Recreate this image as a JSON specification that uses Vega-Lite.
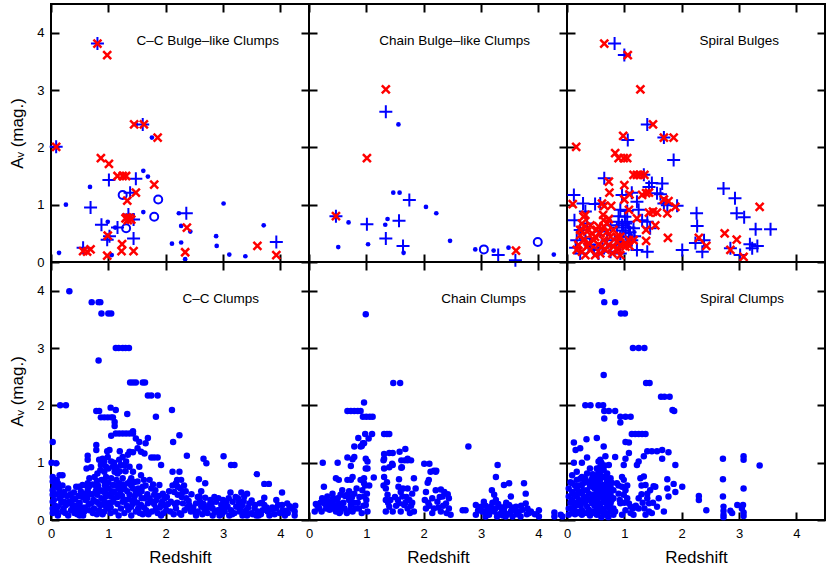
{
"$schema":"https://vega.github.io/schema/vega-lite/v6.json",
"background":"white",
"padding":{"left":7,"top":2,"right":2,"bottom":2},
"columns":3,
"spacing":0,
"bounds":"flush",
"config":{
 "view":{"stroke":"black","strokeWidth":2},
 "axis":{"grid":false,"domain":false,"ticks":true,"tickSize":-8,"tickWidth":2,"tickColor":"black","labelPadding":15,"labelFlush":false,"labelFont":"Liberation Sans","labelFontSize":13,"labelColor":"black","titleFont":"Liberation Sans","titleFontSize":17,"titleFontWeight":"normal","titleColor":"black"},
 "axisX":{"titlePadding":9},
 "axisY":{"titlePadding":10},
 "title":{"font":"Liberation Sans","fontSize":13.5,"fontWeight":"normal","color":"black","anchor":"end","frame":"group"}
},
"datasets":{
"p1":[
{"t":"d","x":0.14,"y":0.16},{"t":"d","x":0.26,"y":1.0},{"t":"d","x":0.68,"y":1.31},{"t":"d","x":0.99,"y":0.70},{"t":"d","x":1.06,"y":0.12},{"t":"d","x":1.12,"y":0.60},{"t":"d","x":1.61,"y":1.59},{"t":"d","x":1.69,"y":1.49},{"t":"d","x":1.76,"y":2.17},{"t":"d","x":1.61,"y":0.87},{"t":"d","x":2.23,"y":0.85},{"t":"d","x":2.27,"y":0.63},{"t":"d","x":2.43,"y":0.53},{"t":"d","x":2.11,"y":0.32},{"t":"d","x":2.27,"y":0.34},{"t":"d","x":2.34,"y":0.05},{"t":"d","x":2.88,"y":0.45},{"t":"d","x":2.89,"y":0.28},{"t":"d","x":3.01,"y":1.02},{"t":"d","x":3.11,"y":0.13},{"t":"d","x":3.39,"y":0.10},{"t":"d","x":3.71,"y":0.64},{"t":"d","x":1.48,"y":2.40},
{"t":"o","x":1.25,"y":1.17},{"t":"o","x":1.87,"y":1.09},{"t":"o","x":1.80,"y":0.79},{"t":"o","x":1.31,"y":0.59},
{"t":"p","x":0.09,"y":2.01},{"t":"p","x":0.81,"y":3.81},{"t":"p","x":1.60,"y":2.40},{"t":"p","x":1.01,"y":1.43},{"t":"p","x":1.48,"y":1.45},{"t":"p","x":0.69,"y":0.95},{"t":"p","x":1.38,"y":1.21},{"t":"p","x":0.88,"y":0.65},{"t":"p","x":1.16,"y":0.60},{"t":"p","x":1.35,"y":0.83},{"t":"p","x":1.44,"y":0.74},{"t":"p","x":0.98,"y":0.39},{"t":"p","x":1.02,"y":0.45},{"t":"p","x":1.44,"y":0.41},{"t":"p","x":0.56,"y":0.25},{"t":"p","x":2.36,"y":0.85},{"t":"p","x":3.93,"y":0.35},
{"t":"x","x":0.09,"y":2.01},{"t":"x","x":0.81,"y":3.81},{"t":"x","x":0.98,"y":3.61},{"t":"x","x":1.45,"y":2.40},{"t":"x","x":1.62,"y":2.40},{"t":"x","x":1.86,"y":2.17},{"t":"x","x":0.87,"y":1.81},{"t":"x","x":1.01,"y":1.71},{"t":"x","x":1.16,"y":1.50},{"t":"x","x":1.25,"y":1.50},{"t":"x","x":1.31,"y":1.50},{"t":"x","x":1.80,"y":1.35},{"t":"x","x":1.48,"y":1.21},{"t":"x","x":1.33,"y":1.07},{"t":"x","x":1.30,"y":0.76},{"t":"x","x":1.34,"y":0.73},{"t":"x","x":1.37,"y":0.77},{"t":"x","x":1.32,"y":0.78},{"t":"x","x":1.40,"y":0.74},{"t":"x","x":0.99,"y":0.46},{"t":"x","x":1.24,"y":0.31},{"t":"x","x":1.23,"y":0.19},{"t":"x","x":1.44,"y":0.19},{"t":"x","x":0.56,"y":0.19},{"t":"x","x":0.63,"y":0.18},{"t":"x","x":0.69,"y":0.22},{"t":"x","x":0.98,"y":0.11},{"t":"x","x":2.37,"y":0.60},{"t":"x","x":2.34,"y":0.17},{"t":"x","x":3.60,"y":0.28},{"t":"x","x":3.93,"y":0.12}
],
"p2":[
{"t":"d","x":1.56,"y":2.40},{"t":"d","x":1.47,"y":1.21},{"t":"d","x":1.58,"y":1.21},{"t":"d","x":2.04,"y":0.96},{"t":"d","x":2.22,"y":0.85},{"t":"d","x":0.69,"y":0.69},{"t":"d","x":1.37,"y":0.75},{"t":"d","x":1.33,"y":0.65},{"t":"d","x":0.51,"y":0.26},{"t":"d","x":1.03,"y":0.31},{"t":"d","x":1.65,"y":0.16},{"t":"d","x":2.46,"y":0.37},{"t":"d","x":2.90,"y":0.22},{"t":"d","x":3.22,"y":0.20},{"t":"d","x":3.48,"y":0.25},{"t":"d","x":4.27,"y":0.13},
{"t":"o","x":3.05,"y":0.22},{"t":"o","x":3.99,"y":0.35},
{"t":"p","x":1.34,"y":2.62},{"t":"p","x":0.47,"y":0.80},{"t":"p","x":1.01,"y":0.66},{"t":"p","x":1.57,"y":0.72},{"t":"p","x":1.75,"y":1.08},{"t":"p","x":1.34,"y":0.41},{"t":"p","x":1.64,"y":0.28},{"t":"p","x":3.30,"y":0.12},{"t":"p","x":3.60,"y":0.03},
{"t":"x","x":1.34,"y":3.01},{"t":"x","x":1.01,"y":1.81},{"t":"x","x":0.47,"y":0.80},{"t":"x","x":3.61,"y":0.20}
],
"p3":[
{"t":"p","x":0.83,"y":3.81},{"t":"p","x":1.00,"y":3.61},{"t":"p","x":1.40,"y":2.40},{"t":"p","x":1.06,"y":2.13},{"t":"p","x":1.69,"y":2.17},{"t":"p","x":1.86,"y":1.78},{"t":"p","x":0.65,"y":1.46},{"t":"p","x":1.34,"y":1.52},{"t":"p","x":1.48,"y":1.38},{"t":"p","x":1.66,"y":1.37},{"t":"p","x":1.43,"y":1.31},{"t":"p","x":0.12,"y":1.17},{"t":"p","x":0.96,"y":1.17},{"t":"p","x":1.13,"y":1.21},{"t":"p","x":1.57,"y":1.20},{"t":"p","x":1.63,"y":1.18},{"t":"p","x":1.22,"y":1.05},{"t":"p","x":1.69,"y":1.02},{"t":"p","x":1.75,"y":0.99},{"t":"p","x":1.92,"y":0.98},{"t":"p","x":0.28,"y":1.02},{"t":"p","x":0.49,"y":1.01},{"t":"p","x":0.58,"y":1.02},{"t":"p","x":0.93,"y":0.91},{"t":"p","x":1.05,"y":0.89},{"t":"p","x":1.25,"y":0.91},{"t":"p","x":0.13,"y":0.73},{"t":"p","x":0.32,"y":0.88},{"t":"p","x":0.87,"y":0.60},{"t":"p","x":0.96,"y":0.64},{"t":"p","x":1.02,"y":0.67},{"t":"p","x":1.08,"y":0.60},{"t":"p","x":1.16,"y":0.59},{"t":"p","x":1.31,"y":0.73},{"t":"p","x":1.40,"y":0.70},{"t":"p","x":1.45,"y":0.59},{"t":"p","x":1.02,"y":0.50},{"t":"p","x":1.08,"y":0.44},{"t":"p","x":0.93,"y":0.44},{"t":"p","x":1.13,"y":0.38},{"t":"p","x":1.22,"y":0.21},{"t":"p","x":1.40,"y":0.18},{"t":"p","x":0.93,"y":0.15},{"t":"p","x":0.76,"y":0.18},{"t":"p","x":0.23,"y":0.15},{"t":"p","x":0.47,"y":0.21},{"t":"p","x":0.55,"y":0.15},{"t":"p","x":0.17,"y":0.38},{"t":"p","x":0.32,"y":0.41},{"t":"p","x":0.23,"y":0.56},{"t":"p","x":0.35,"y":0.67},{"t":"p","x":0.58,"y":0.53},{"t":"p","x":0.70,"y":0.38},{"t":"p","x":0.76,"y":0.64},{"t":"p","x":2.26,"y":0.85},{"t":"p","x":2.27,"y":0.63},{"t":"p","x":2.39,"y":0.38},{"t":"p","x":2.24,"y":0.33},{"t":"p","x":2.01,"y":0.21},{"t":"p","x":2.36,"y":0.18},{"t":"p","x":2.73,"y":1.28},{"t":"p","x":2.93,"y":1.11},{"t":"p","x":2.96,"y":0.85},{"t":"p","x":3.09,"y":0.78},{"t":"p","x":3.29,"y":0.57},{"t":"p","x":3.55,"y":0.57},{"t":"p","x":3.19,"y":0.31},{"t":"p","x":3.32,"y":0.28},{"t":"p","x":3.23,"y":0.24},{"t":"p","x":2.85,"y":0.24},{"t":"p","x":3.02,"y":0.12},{"t":"p","x":1.01,"y":0.79},{"t":"p","x":0.90,"y":0.80},{"t":"p","x":0.98,"y":0.55},{"t":"p","x":1.05,"y":0.70},{"t":"p","x":0.90,"y":0.70},{"t":"p","x":1.10,"y":0.52},{"t":"p","x":0.95,"y":0.35},{"t":"p","x":0.15,"y":0.25},{"t":"p","x":0.40,"y":0.30},{"t":"p","x":0.62,"y":0.25},{"t":"p","x":0.85,"y":0.30},{"t":"p","x":1.18,"y":0.45},
{"t":"x","x":0.65,"y":3.81},{"t":"x","x":1.06,"y":3.61},{"t":"x","x":1.28,"y":3.01},{"t":"x","x":1.50,"y":2.40},{"t":"x","x":0.98,"y":2.20},{"t":"x","x":1.69,"y":2.17},{"t":"x","x":1.86,"y":2.17},{"t":"x","x":0.16,"y":2.01},{"t":"x","x":0.84,"y":1.90},{"t":"x","x":0.90,"y":1.81},{"t":"x","x":0.99,"y":1.81},{"t":"x","x":1.05,"y":1.81},{"t":"x","x":1.16,"y":1.52},{"t":"x","x":1.22,"y":1.52},{"t":"x","x":1.28,"y":1.52},{"t":"x","x":1.35,"y":1.52},{"t":"x","x":0.73,"y":1.40},{"t":"x","x":1.00,"y":1.34},{"t":"x","x":0.74,"y":1.21},{"t":"x","x":1.09,"y":1.18},{"t":"x","x":1.00,"y":1.09},{"t":"x","x":1.31,"y":1.17},{"t":"x","x":1.38,"y":1.20},{"t":"x","x":1.43,"y":1.21},{"t":"x","x":1.69,"y":1.09},{"t":"x","x":1.77,"y":1.06},{"t":"x","x":1.89,"y":0.96},{"t":"x","x":0.10,"y":1.01},{"t":"x","x":0.61,"y":1.02},{"t":"x","x":0.65,"y":0.98},{"t":"x","x":0.77,"y":0.98},{"t":"x","x":0.32,"y":0.82},{"t":"x","x":0.63,"y":0.82},{"t":"x","x":0.73,"y":0.75},{"t":"x","x":1.08,"y":0.91},{"t":"x","x":1.43,"y":0.86},{"t":"x","x":1.50,"y":0.88},{"t":"x","x":1.57,"y":0.86},{"t":"x","x":1.75,"y":0.85},{"t":"x","x":1.22,"y":0.76},{"t":"x","x":1.38,"y":0.56},{"t":"x","x":1.54,"y":0.64},{"t":"x","x":1.38,"y":0.37},{"t":"x","x":1.76,"y":0.42},{"t":"x","x":2.30,"y":0.42},{"t":"x","x":2.43,"y":0.28},{"t":"x","x":2.75,"y":0.50},{"t":"x","x":2.96,"y":0.39},{"t":"x","x":2.85,"y":0.21},{"t":"x","x":3.08,"y":0.09},{"t":"x","x":3.36,"y":0.96},{"t":"x","x":1.09,"y":0.28},{"t":"x","x":1.02,"y":0.33},{"t":"x","x":0.93,"y":0.44},{"t":"x","x":1.16,"y":0.38},
{"t":"x","x":0.26,"y":0.67},{"t":"x","x":0.32,"y":0.62},{"t":"x","x":0.23,"y":0.47},{"t":"x","x":0.29,"y":0.38},{"t":"x","x":0.20,"y":0.30},{"t":"x","x":0.35,"y":0.27},{"t":"x","x":0.26,"y":0.18},{"t":"x","x":0.32,"y":0.12},{"t":"x","x":0.41,"y":0.21},{"t":"x","x":0.47,"y":0.38},{"t":"x","x":0.52,"y":0.56},{"t":"x","x":0.49,"y":0.44},{"t":"x","x":0.58,"y":0.50},{"t":"x","x":0.64,"y":0.62},{"t":"x","x":0.70,"y":0.53},{"t":"x","x":0.76,"y":0.44},{"t":"x","x":0.55,"y":0.30},{"t":"x","x":0.61,"y":0.27},{"t":"x","x":0.67,"y":0.21},{"t":"x","x":0.73,"y":0.30},{"t":"x","x":0.81,"y":0.27},{"t":"x","x":0.87,"y":0.35},{"t":"x","x":0.90,"y":0.21},{"t":"x","x":0.38,"y":0.33},{"t":"x","x":0.44,"y":0.50},{"t":"x","x":0.64,"y":0.38},{"t":"x","x":0.79,"y":0.15},{"t":"x","x":0.58,"y":0.15},{"t":"x","x":0.17,"y":0.21},{"t":"x","x":0.49,"y":0.12},{"t":"x","x":0.35,"y":0.53},{"t":"x","x":0.70,"y":0.67},{"t":"x","x":0.81,"y":0.56},{"t":"x","x":0.87,"y":0.44},{"t":"x","x":0.93,"y":0.30},{"t":"x","x":1.02,"y":0.27},{"t":"x","x":1.08,"y":0.38},{"t":"x","x":0.93,"y":0.12},{"t":"x","x":0.23,"y":0.56},{"t":"x","x":0.41,"y":0.64},{"t":"x","x":0.55,"y":0.62},{"t":"x","x":0.64,"y":0.73},{"t":"x","x":0.29,"y":0.79}
],
"p4":[
{"x":0.32,"y":3.99},{"x":0.71,"y":3.80},{"x":0.83,"y":3.80},{"x":0.86,"y":3.80},{"x":0.88,"y":3.60},{"x":1.00,"y":3.60},{"x":1.05,"y":3.60},{"x":0.83,"y":2.78},{"x":1.13,"y":3.0},{"x":1.18,"y":3.0},{"x":1.25,"y":3.0},{"x":1.30,"y":3.0},{"x":1.36,"y":3.0},{"x":1.38,"y":2.40},{"x":1.43,"y":2.40},{"x":1.48,"y":2.40},{"x":1.60,"y":2.40},{"x":1.64,"y":2.40},{"x":1.69,"y":2.17},{"x":1.75,"y":2.17},{"x":1.86,"y":2.17},{"x":0.16,"y":2.0},{"x":0.26,"y":2.0},{"x":1.33,"y":1.85},{"x":1.83,"y":1.80},
{"x":0.79,"y":1.90},{"x":0.84,"y":1.90},{"x":1.04,"y":1.96},{"x":1.13,"y":1.92},{"x":0.87,"y":1.79},{"x":0.93,"y":1.79},{"x":0.99,"y":1.79},{"x":1.05,"y":1.79},{"x":1.08,"y":1.79},{"x":2.11,"y":1.92},{"x":1.11,"y":1.71},{"x":1.11,"y":1.64},{"x":1.05,"y":1.47},{"x":1.13,"y":1.51},{"x":1.19,"y":1.51},{"x":1.25,"y":1.51},{"x":1.31,"y":1.51},{"x":1.37,"y":1.51},{"x":1.43,"y":1.51},{"x":1.43,"y":1.55},{"x":1.48,"y":1.42},{"x":1.54,"y":1.36},{"x":1.69,"y":1.43},{"x":1.65,"y":1.34},{"x":2.13,"y":1.36},{"x":2.24,"y":1.48},{"x":0.03,"y":1.36},{"x":0.79,"y":1.31},{"x":0.79,"y":1.22},{"x":0.64,"y":1.12},{"x":0.64,"y":1.05},{"x":1.02,"y":1.22},{"x":0.99,"y":1.10},{"x":1.25,"y":1.10},{"x":1.34,"y":1.14},{"x":1.37,"y":1.19},{"x":1.43,"y":1.18},{"x":1.51,"y":1.25},{"x":1.57,"y":1.19},{"x":1.63,"y":1.16},{"x":1.75,"y":1.09},{"x":1.80,"y":1.09},{"x":1.86,"y":1.09},{"x":1.92,"y":0.96},{"x":0.09,"y":0.99},{"x":0.01,"y":1.0},
{"x":0.03,"y":0.75},{"x":0.03,"y":0.67},{"x":0.03,"y":0.52},{"x":0.03,"y":0.44},{"x":0.03,"y":0.32},{"x":0.03,"y":0.20},{"x":0.03,"y":0.12},
{"x":0.15,"y":0.78},{"x":0.20,"y":0.78},{"x":0.12,"y":0.64},{"x":0.20,"y":0.60},{"x":0.15,"y":0.49},{"x":0.23,"y":0.49},{"x":0.15,"y":0.38},{"x":0.23,"y":0.32},{"x":0.12,"y":0.23},{"x":0.20,"y":0.15},{"x":0.26,"y":0.26},
{"x":0.44,"y":0.58},{"x":0.49,"y":0.58},{"x":0.55,"y":0.61},{"x":0.32,"y":0.32},{"x":0.38,"y":0.20},{"x":0.47,"y":0.26},{"x":0.52,"y":0.17},{"x":0.41,"y":0.12},{"x":0.35,"y":0.17},{"x":0.58,"y":0.15},
{"x":0.58,"y":0.46},{"x":0.64,"y":0.52},{"x":0.64,"y":0.64},{"x":0.67,"y":0.73},{"x":0.63,"y":0.38},{"x":0.70,"y":0.29},{"x":0.67,"y":0.17},{"x":0.73,"y":0.12},
{"x":0.76,"y":0.75},{"x":0.81,"y":0.81},{"x":0.86,"y":0.87},{"x":0.87,"y":0.96},{"x":0.84,"y":1.05},{"x":0.79,"y":0.58},{"x":0.81,"y":0.44},{"x":0.79,"y":0.32},{"x":0.84,"y":0.17},{"x":0.87,"y":0.26},{"x":0.93,"y":0.15},{"x":0.99,"y":0.20},{"x":1.04,"y":0.12},
{"x":0.90,"y":1.07},{"x":0.93,"y":1.02},{"x":0.96,"y":0.93},{"x":0.93,"y":0.84},{"x":0.96,"y":0.75},{"x":0.93,"y":0.67},{"x":0.96,"y":0.58},{"x":0.93,"y":0.49},{"x":0.96,"y":0.41},{"x":0.93,"y":0.32},{"x":0.96,"y":0.23},
{"x":1.05,"y":1.02},{"x":1.08,"y":0.93},{"x":1.11,"y":0.84},{"x":1.05,"y":0.73},{"x":1.08,"y":0.61},{"x":1.11,"y":0.49},{"x":1.05,"y":0.41},{"x":1.08,"y":0.32},
{"x":1.19,"y":1.05},{"x":1.22,"y":0.96},{"x":1.16,"y":0.81},{"x":1.25,"y":0.73},{"x":1.19,"y":0.64},{"x":1.22,"y":0.52},{"x":1.19,"y":0.44},{"x":1.25,"y":0.32},{"x":1.22,"y":0.20},{"x":1.28,"y":0.12},
{"x":1.31,"y":1.02},{"x":1.37,"y":0.93},{"x":1.43,"y":0.84},{"x":1.40,"y":0.73},{"x":1.34,"y":0.64},{"x":1.43,"y":0.55},{"x":1.37,"y":0.44},{"x":1.45,"y":0.35},{"x":1.40,"y":0.23},{"x":1.48,"y":0.15},
{"x":1.54,"y":0.93},{"x":1.57,"y":0.78},{"x":1.51,"y":0.67},{"x":1.60,"y":0.58},{"x":1.54,"y":0.46},{"x":1.63,"y":0.38},{"x":1.57,"y":0.26},{"x":1.66,"y":0.17},{"x":1.69,"y":0.29},
{"x":1.72,"y":0.70},{"x":1.75,"y":0.55},{"x":1.80,"y":0.44},{"x":1.77,"y":0.32},{"x":1.83,"y":0.20},{"x":1.86,"y":0.12},
{"x":1.89,"y":0.61},{"x":1.95,"y":0.46},{"x":1.92,"y":0.26},{"x":2.01,"y":0.17},{"x":1.98,"y":0.38},
{"x":2.12,"y":0.84},{"x":2.18,"y":0.64},{"x":2.15,"y":0.49},{"x":2.09,"y":0.32},{"x":2.18,"y":0.20},{"x":2.24,"y":0.12},{"x":2.21,"y":0.44},
{"x":2.37,"y":1.12},{"x":2.66,"y":1.07},{"x":2.71,"y":0.99},{"x":3.01,"y":1.11},{"x":3.14,"y":0.96},{"x":3.20,"y":0.96},{"x":3.59,"y":0.80},{"x":3.72,"y":0.63},{"x":3.80,"y":0.63},{"x":4.03,"y":0.48},{"x":4.12,"y":0.29},{"x":4.25,"y":0.15},{"x":4.25,"y":0.08},
{"x":2.58,"y":0.71},{"x":2.69,"y":0.64},{"x":2.59,"y":0.41},{"x":2.69,"y":0.39},{"x":3.13,"y":0.48},{"x":3.32,"y":0.48},{"x":3.42,"y":0.46},{"x":3.26,"y":0.38},{"x":3.37,"y":0.41},{"x":3.72,"y":0.39},{"x":3.93,"y":0.35},{"x":4.03,"y":0.26},
{"x":2.24,"y":0.84},{"x":2.27,"y":0.70},{"x":2.21,"y":0.58},{"x":2.30,"y":0.49},{"x":2.36,"y":0.38},{"x":2.30,"y":0.29},{"x":2.41,"y":0.26},{"x":2.33,"y":0.17},{"x":2.44,"y":0.15},{"x":2.27,"y":0.09},
{"x":2.53,"y":0.29},{"x":2.62,"y":0.23},{"x":2.56,"y":0.15},{"x":2.68,"y":0.17},{"x":2.76,"y":0.26},{"x":2.82,"y":0.20},{"x":2.73,"y":0.12},
{"x":2.88,"y":0.32},{"x":2.97,"y":0.26},{"x":2.91,"y":0.17},{"x":3.03,"y":0.15},{"x":3.00,"y":0.35},{"x":3.08,"y":0.23},{"x":3.14,"y":0.17},{"x":3.17,"y":0.32},
{"x":3.23,"y":0.23},{"x":3.29,"y":0.15},{"x":3.34,"y":0.26},{"x":3.40,"y":0.17},{"x":3.46,"y":0.29},{"x":3.49,"y":0.12},{"x":3.55,"y":0.20},{"x":3.61,"y":0.15},{"x":3.64,"y":0.29},
{"x":3.69,"y":0.17},{"x":3.72,"y":0.26},{"x":3.78,"y":0.15},{"x":3.81,"y":0.08},{"x":3.93,"y":0.20},{"x":3.99,"y":0.12},{"x":4.04,"y":0.17},{"x":4.13,"y":0.12},
{"x":2.94,"y":0.08},{"x":3.11,"y":0.08},{"x":3.34,"y":0.08},{"x":3.58,"y":0.08},{"x":2.82,"y":0.08},{"x":2.53,"y":0.08},
{"x":0.07,"y":0.25},{"x":0.10,"y":0.15},{"x":0.18,"y":0.30},{"x":0.28,"y":0.42},{"x":0.36,"y":0.28},{"x":0.42,"y":0.36},{"x":0.50,"y":0.30},{"x":0.55,"y":0.40},{"x":0.46,"y":0.10},{"x":0.60,"y":0.22},{"x":0.66,"y":0.58},{"x":0.72,"y":0.45},{"x":0.75,"y":0.20},{"x":0.82,"y":0.60},{"x":0.88,"y":0.38},{"x":0.90,"y":0.50},{"x":1.00,"y":0.55},{"x":1.02,"y":0.30},{"x":1.00,"y":0.90},{"x":1.14,"y":0.70},{"x":1.12,"y":0.15},{"x":1.16,"y":0.40},{"x":1.28,"y":0.55},{"x":1.30,"y":0.85},{"x":1.32,"y":0.25},{"x":1.36,"y":0.36},{"x":1.45,"y":0.66},{"x":1.48,"y":0.48},{"x":1.52,"y":0.20},{"x":1.58,"y":0.50},{"x":1.62,"y":0.70},{"x":1.68,"y":0.45},{"x":1.70,"y":0.10},{"x":1.78,"y":0.62},{"x":1.84,"y":0.35},{"x":1.90,"y":0.22},{"x":1.96,"y":0.12},{"x":2.04,"y":0.28},{"x":2.06,"y":0.50},{"x":2.14,"y":0.10},{"x":2.20,"y":0.30},{"x":2.26,"y":0.55},{"x":2.35,"y":0.50},{"x":2.40,"y":0.33},{"x":2.48,"y":0.22},{"x":2.60,"y":0.32},{"x":2.64,"y":0.10},{"x":2.78,"y":0.35},{"x":2.86,"y":0.14},{"x":2.98,"y":0.10},{"x":3.06,"y":0.30},{"x":3.20,"y":0.12},{"x":3.28,"y":0.30},{"x":3.38,"y":0.12},{"x":3.44,"y":0.22},{"x":3.52,"y":0.10},{"x":3.66,"y":0.10},{"x":3.86,"y":0.22},{"x":3.90,"y":0.10},{"x":4.08,"y":0.08},{"x":4.20,"y":0.20},{"x":1.20,"y":1.20},{"x":0.98,"y":1.20},{"x":1.10,"y":1.00},{"x":0.70,"y":0.92},{"x":0.62,"y":0.90},{"x":0.40,"y":0.48},{"x":0.30,"y":0.55},{"x":0.08,"y":0.45},{"x":0.25,"y":0.12},{"x":0.12,"y":0.08},{"x":0.50,"y":0.08},{"x":0.80,"y":0.10},{"x":1.18,"y":0.08},{"x":1.40,"y":0.08},{"x":1.60,"y":0.10},{"x":1.92,"y":0.08},
{"x":0.05,"y":0.35},{"x":0.06,"y":0.58},{"x":0.10,"y":0.70},{"x":0.14,"y":0.55},{"x":0.18,"y":0.42},{"x":0.22,"y":0.20},{"x":0.28,"y":0.30},{"x":0.30,"y":0.08},{"x":0.34,"y":0.45},{"x":0.38,"y":0.38},{"x":0.40,"y":0.25},{"x":0.44,"y":0.18},{"x":0.48,"y":0.42},{"x":0.52,"y":0.50},{"x":0.54,"y":0.22},{"x":0.56,"y":0.08},{"x":0.60,"y":0.35},{"x":0.62,"y":0.60},{"x":0.66,"y":0.28},{"x":0.68,"y":0.45},{"x":0.72,"y":0.62},{"x":0.74,"y":0.35},{"x":0.78,"y":0.50},{"x":0.80,"y":0.68},{"x":0.84,"y":0.28},{"x":0.86,"y":0.52},{"x":0.88,"y":0.70},{"x":0.90,"y":0.10},{"x":0.94,"y":0.60},{"x":0.98,"y":0.45},{"x":1.00,"y":0.65},{"x":1.04,"y":0.22},{"x":1.06,"y":0.50},{"x":1.10,"y":0.38},{"x":1.12,"y":0.60},{"x":1.14,"y":0.92},{"x":1.16,"y":0.28},{"x":1.18,"y":0.55},{"x":1.20,"y":0.85},{"x":1.24,"y":0.42},{"x":1.26,"y":0.62},{"x":1.28,"y":0.95},{"x":1.30,"y":0.35},{"x":1.33,"y":0.50},{"x":1.35,"y":0.18},{"x":1.38,"y":0.68},{"x":1.40,"y":0.60},{"x":1.42,"y":0.28},{"x":1.46,"y":0.42},{"x":1.50,"y":0.30},{"x":1.52,"y":0.55},{"x":1.55,"y":0.12},{"x":1.58,"y":0.38},{"x":1.62,"y":0.22},{"x":1.65,"y":0.60},{"x":1.68,"y":0.12},{"x":1.72,"y":0.38},{"x":1.76,"y":0.15},{"x":1.80,"y":0.28},{"x":1.82,"y":0.52},{"x":1.88,"y":0.42},{"x":1.94,"y":0.32},{"x":2.00,"y":0.25},{"x":2.02,"y":0.40},{"x":2.08,"y":0.15},{"x":2.12,"y":0.60},{"x":2.16,"y":0.28},{"x":2.20,"y":0.70},{"x":2.28,"y":0.40},{"x":2.32,"y":0.60},{"x":2.38,"y":0.22},{"x":2.45,"y":0.45},{"x":2.50,"y":0.15},{"x":2.56,"y":0.40},{"x":2.62,"y":0.50},{"x":2.66,"y":0.28},{"x":2.72,"y":0.20},{"x":2.80,"y":0.28},{"x":2.85,"y":0.40},{"x":2.92,"y":0.38},{"x":2.96,"y":0.18},{"x":3.02,"y":0.24},{"x":3.10,"y":0.38},{"x":3.16,"y":0.10},{"x":3.22,"y":0.40},{"x":3.30,"y":0.20},{"x":3.36,"y":0.33},{"x":3.42,"y":0.08},{"x":3.50,"y":0.34},{"x":3.56,"y":0.26},{"x":3.62,"y":0.08},{"x":3.68,"y":0.30},{"x":3.76,"y":0.22},{"x":3.84,"y":0.18},{"x":3.96,"y":0.26},{"x":4.10,"y":0.16},{"x":4.16,"y":0.24},{"x":4.26,"y":0.25}
],
"p5":[
{"x":0.99,"y":3.59},{"x":1.47,"y":2.39},{"x":1.59,"y":2.39},{"x":0.96,"y":2.05},{"x":0.67,"y":1.90},{"x":0.73,"y":1.90},{"x":0.79,"y":1.90},{"x":0.85,"y":1.90},{"x":0.90,"y":1.90},{"x":0.94,"y":1.80},{"x":1.00,"y":1.80},{"x":1.06,"y":1.80},{"x":1.11,"y":1.80},{"x":0.98,"y":1.50},{"x":1.10,"y":1.50},{"x":1.04,"y":1.42},{"x":1.31,"y":1.50},{"x":1.36,"y":1.50},{"x":1.40,"y":1.50},{"x":0.86,"y":1.43},{"x":0.94,"y":1.34},{"x":0.79,"y":1.28},{"x":0.90,"y":1.28},{"x":2.78,"y":1.28},{"x":1.31,"y":1.15},{"x":1.40,"y":1.17},{"x":1.46,"y":1.17},{"x":1.58,"y":1.19},{"x":1.68,"y":1.24},{"x":0.67,"y":1.09},{"x":0.76,"y":1.06},{"x":1.61,"y":1.04},{"x":1.67,"y":1.04},{"x":1.72,"y":1.04},{"x":1.78,"y":1.04},{"x":1.30,"y":1.04},{"x":1.46,"y":0.96},{"x":1.61,"y":0.91},{"x":0.24,"y":1.0},{"x":0.50,"y":1.0},{"x":2.01,"y":0.98},{"x":2.10,"y":0.98},{"x":3.29,"y":0.96},{"x":2.18,"y":0.86},{"x":2.22,"y":0.86},
{"x":0.47,"y":0.73},{"x":0.52,"y":0.70},{"x":0.67,"y":0.70},{"x":0.73,"y":0.70},{"x":0.76,"y":0.75},{"x":0.73,"y":0.94},{"x":0.79,"y":1.10},{"x":0.90,"y":0.70},{"x":0.96,"y":0.73},{"x":0.99,"y":1.07},{"x":1.02,"y":1.02},{"x":1.02,"y":0.90},{"x":0.99,"y":0.90},{"x":1.13,"y":0.74},{"x":0.92,"y":1.29},{"x":0.96,"y":1.34},
{"x":0.26,"y":0.58},{"x":0.15,"y":0.24},{"x":0.23,"y":0.38},{"x":0.26,"y":0.32},{"x":0.32,"y":0.41},{"x":0.35,"y":0.26},{"x":0.41,"y":0.46},{"x":0.44,"y":0.35},{"x":0.49,"y":0.20},{"x":0.52,"y":0.29},{"x":0.55,"y":0.44},{"x":0.58,"y":0.52},{"x":0.47,"y":0.15},{"x":0.55,"y":0.15},{"x":0.67,"y":0.44},{"x":0.70,"y":0.35},{"x":0.73,"y":0.26},{"x":0.76,"y":0.15},{"x":0.79,"y":0.46},{"x":0.81,"y":0.20},{"x":0.93,"y":0.52},{"x":0.96,"y":0.41},{"x":0.99,"y":0.26},{"x":1.02,"y":0.15},{"x":0.96,"y":0.64},
{"x":1.31,"y":1.07},{"x":1.31,"y":0.90},{"x":1.31,"y":0.75},{"x":1.34,"y":0.55},{"x":1.37,"y":0.44},{"x":1.34,"y":0.35},{"x":1.40,"y":0.23},{"x":1.40,"y":0.92},{"x":1.45,"y":0.98},{"x":1.57,"y":0.71},{"x":1.56,"y":0.58},{"x":1.60,"y":0.49},{"x":1.63,"y":0.41},{"x":1.57,"y":0.29},{"x":1.66,"y":0.26},{"x":1.72,"y":0.20},{"x":1.75,"y":0.35},{"x":1.80,"y":0.46},{"x":1.86,"y":0.55},{"x":1.72,"y":1.07},{"x":1.72,"y":0.55},{"x":1.62,"y":0.92},{"x":1.83,"y":0.73},{"x":1.83,"y":0.15},
{"x":2.07,"y":0.65},{"x":2.09,"y":0.70},{"x":2.04,"y":0.49},{"x":2.21,"y":0.52},{"x":2.30,"y":0.53},{"x":2.36,"y":0.49},{"x":2.15,"y":0.38},{"x":2.24,"y":0.32},{"x":2.33,"y":0.41},{"x":2.39,"y":0.29},{"x":2.44,"y":0.38},{"x":2.44,"y":0.20},{"x":2.47,"y":0.09},{"x":2.04,"y":0.20},{"x":2.15,"y":0.12},{"x":2.30,"y":0.15},{"x":2.12,"y":0.84},{"x":2.21,"y":0.84},
{"x":2.68,"y":0.17},{"x":2.73,"y":0.17},{"x":2.91,"y":0.26},{"x":2.91,"y":0.09},{"x":3.05,"y":0.32},{"x":3.05,"y":0.15},{"x":3.08,"y":0.06},{"x":3.19,"y":0.52},{"x":3.23,"y":0.44},{"x":3.26,"y":0.35},{"x":3.26,"y":0.75},
{"x":3.17,"y":0.23},{"x":3.23,"y":0.15},{"x":3.29,"y":0.09},{"x":3.32,"y":0.23},{"x":3.35,"y":0.12},{"x":3.40,"y":0.17},{"x":3.43,"y":0.06},{"x":3.49,"y":0.26},{"x":3.52,"y":0.15},{"x":3.55,"y":0.06},{"x":3.49,"y":0.64},{"x":3.52,"y":0.41},{"x":3.40,"y":0.61},
{"x":3.61,"y":0.23},{"x":3.66,"y":0.15},{"x":3.69,"y":0.06},{"x":3.75,"y":0.64},{"x":3.78,"y":0.46},{"x":3.78,"y":0.29},{"x":3.81,"y":0.20},{"x":3.84,"y":0.12},{"x":3.87,"y":0.15},{"x":4.01,"y":0.17},{"x":4.01,"y":0.06},{"x":4.28,"y":0.13},{"x":4.28,"y":0.06},{"x":4.39,"y":0.09},{"x":4.42,"y":0.06},{"x":3.0,"y":0.23},{"x":3.02,"y":0.15},{"x":3.14,"y":0.09},
{"x":0.20,"y":0.30},{"x":0.30,"y":0.20},{"x":0.38,"y":0.30},{"x":0.45,"y":0.25},{"x":0.60,"y":0.30},{"x":0.62,"y":0.20},{"x":0.70,"y":0.50},{"x":0.85,"y":0.30},{"x":0.88,"y":0.40},{"x":1.00,"y":0.35},{"x":1.30,"y":0.60},{"x":1.38,"y":0.30},{"x":1.50,"y":0.40},{"x":1.52,"y":0.25},{"x":1.68,"y":0.30},{"x":1.78,"y":0.25},{"x":2.10,"y":0.25},{"x":2.26,"y":0.22},{"x":2.40,"y":0.12},{"x":3.10,"y":0.12},{"x":3.20,"y":0.30},{"x":3.36,"y":0.20},{"x":3.44,"y":0.30},{"x":3.58,"y":0.18},{"x":3.70,"y":0.25},{"x":3.28,"y":0.06},{"x":3.46,"y":0.10},{"x":3.12,"y":0.20},{"x":3.38,"y":0.08},
{"x":0.10,"y":0.15},{"x":0.12,"y":0.28},{"x":0.18,"y":0.20},{"x":0.22,"y":0.15},{"x":0.28,"y":0.28},{"x":0.33,"y":0.32},{"x":0.36,"y":0.18},{"x":0.40,"y":0.20},{"x":0.42,"y":0.38},{"x":0.50,"y":0.38},{"x":0.53,"y":0.12},{"x":0.57,"y":0.22},{"x":0.63,"y":0.42},{"x":0.66,"y":0.12},{"x":0.72,"y":0.18},{"x":0.75,"y":0.40},{"x":0.78,"y":0.30},{"x":0.83,"y":0.55},{"x":0.87,"y":0.20},{"x":0.92,"y":0.12},{"x":0.95,"y":0.25},{"x":0.98,"y":0.60},{"x":1.01,"y":0.46},{"x":1.05,"y":0.60},{"x":1.34,"y":0.15},{"x":1.36,"y":0.66},{"x":1.42,"y":0.35},{"x":1.46,"y":0.15},{"x":1.55,"y":0.35},{"x":1.60,"y":0.15},{"x":1.64,"y":0.55},{"x":1.70,"y":0.40},{"x":1.76,"y":0.12},{"x":1.80,"y":0.30},{"x":2.02,"y":0.35},{"x":2.08,"y":0.30},{"x":2.18,"y":0.20},{"x":2.28,"y":0.40},{"x":2.34,"y":0.25},{"x":2.42,"y":0.45},{"x":2.95,"y":0.17},{"x":3.08,"y":0.25},{"x":3.15,"y":0.15},{"x":3.25,"y":0.20},{"x":3.30,"y":0.28},{"x":3.42,"y":0.24},{"x":3.54,"y":0.22},{"x":3.62,"y":0.10},{"x":3.72,"y":0.18},{"x":3.80,"y":0.10},{"x":3.94,"y":0.10}
],
"p6":[
{"x":0.61,"y":3.99},{"x":0.65,"y":3.80},{"x":0.84,"y":3.80},{"x":0.94,"y":3.60},{"x":1.01,"y":3.60},{"x":1.15,"y":3.0},{"x":1.25,"y":3.0},{"x":1.35,"y":3.0},{"x":0.64,"y":2.53},{"x":1.38,"y":2.39},{"x":1.44,"y":2.39},{"x":1.64,"y":2.15},{"x":1.70,"y":2.15},{"x":1.79,"y":2.15},{"x":1.84,"y":1.92},{"x":1.87,"y":1.90},
{"x":0.32,"y":2.0},{"x":0.41,"y":2.0},{"x":0.55,"y":2.0},{"x":0.63,"y":2.0},{"x":0.65,"y":1.90},{"x":0.73,"y":1.90},{"x":0.84,"y":1.90},{"x":0.65,"y":1.77},{"x":0.93,"y":1.80},{"x":1.02,"y":1.80},{"x":1.11,"y":1.80},{"x":0.93,"y":1.70},{"x":1.13,"y":1.50},{"x":1.19,"y":1.50},{"x":1.25,"y":1.50},{"x":1.31,"y":1.50},{"x":1.37,"y":1.50},{"x":1.02,"y":1.36},{"x":1.08,"y":1.35},
{"x":0.12,"y":1.35},{"x":0.34,"y":1.41},{"x":0.52,"y":1.43},{"x":0.15,"y":1.22},{"x":0.23,"y":1.25},{"x":0.64,"y":1.28},{"x":1.08,"y":1.17},{"x":1.40,"y":1.20},{"x":1.48,"y":1.20},{"x":1.57,"y":1.20},{"x":1.66,"y":1.22},{"x":1.77,"y":1.18},
{"x":0.12,"y":1.0},{"x":0.26,"y":1.0},{"x":0.35,"y":1.09},{"x":0.55,"y":1.02},{"x":0.67,"y":1.11},{"x":0.73,"y":0.96},{"x":0.84,"y":1.10},{"x":1.02,"y":1.07},{"x":0.99,"y":0.96},{"x":1.25,"y":1.02},{"x":1.22,"y":0.96},{"x":1.34,"y":1.11},{"x":1.89,"y":0.96},{"x":1.66,"y":1.07},
{"x":2.72,"y":1.07},{"x":3.08,"y":1.11},{"x":3.08,"y":1.05},{"x":3.36,"y":0.95},{"x":2.72,"y":0.71},{"x":3.08,"y":0.55},{"x":3.07,"y":0.26},{"x":2.72,"y":0.41},{"x":2.30,"y":0.42},{"x":2.30,"y":0.35},{"x":2.43,"y":0.17},
{"x":2.73,"y":0.23},{"x":2.73,"y":0.16},{"x":2.73,"y":0.09},{"x":2.73,"y":0.05},{"x":2.85,"y":0.16},{"x":2.97,"y":0.26},{"x":3.05,"y":0.20},{"x":3.08,"y":0.13},{"x":3.08,"y":0.07},{"x":2.88,"y":0.12},
{"x":1.75,"y":0.71},{"x":1.75,"y":0.55},{"x":1.77,"y":0.41},{"x":1.51,"y":0.59},{"x":1.69,"y":0.15},{"x":1.57,"y":0.23},{"x":1.60,"y":0.38},{"x":2.01,"y":0.58},{"x":1.86,"y":0.63},{"x":1.89,"y":0.49},
{"x":1.16,"y":0.09},{"x":1.25,"y":0.20},{"x":1.25,"y":0.38},{"x":1.40,"y":0.46},{"x":1.37,"y":0.61},{"x":1.28,"y":0.73},{"x":1.34,"y":0.76},{"x":1.43,"y":0.29},{"x":1.43,"y":0.15},{"x":1.48,"y":0.12},{"x":1.37,"y":0.09},{"x":1.40,"y":0.38},{"x":1.54,"y":0.58},{"x":1.45,"y":0.52},
{"x":0.96,"y":0.75},{"x":0.99,"y":0.70},{"x":0.96,"y":0.58},{"x":1.02,"y":0.52},{"x":0.99,"y":0.44},{"x":1.05,"y":0.38},{"x":1.08,"y":0.29},{"x":1.11,"y":0.23},{"x":1.02,"y":0.17},{"x":1.11,"y":0.12},{"x":0.96,"y":0.09},{"x":0.87,"y":0.64},{"x":0.90,"y":0.46},{"x":0.93,"y":0.29},{"x":0.84,"y":0.15},
{"x":0.09,"y":0.78},{"x":0.09,"y":0.64},{"x":0.09,"y":0.49},{"x":0.09,"y":0.35},{"x":0.09,"y":0.20},{"x":0.09,"y":0.12},
{"x":0.17,"y":0.84},{"x":0.17,"y":0.70},{"x":0.17,"y":0.55},{"x":0.17,"y":0.41},{"x":0.17,"y":0.26},{"x":0.17,"y":0.15},
{"x":0.26,"y":0.75},{"x":0.26,"y":0.61},{"x":0.26,"y":0.46},{"x":0.26,"y":0.32},{"x":0.26,"y":0.17},{"x":0.26,"y":0.09},
{"x":0.35,"y":0.81},{"x":0.35,"y":0.67},{"x":0.35,"y":0.52},{"x":0.35,"y":0.38},{"x":0.35,"y":0.23},{"x":0.35,"y":0.12},
{"x":0.44,"y":0.73},{"x":0.44,"y":0.58},{"x":0.44,"y":0.44},{"x":0.44,"y":0.29},{"x":0.44,"y":0.15},
{"x":0.52,"y":0.90},{"x":0.52,"y":0.78},{"x":0.52,"y":0.64},{"x":0.52,"y":0.49},{"x":0.52,"y":0.35},{"x":0.52,"y":0.20},{"x":0.52,"y":0.09},
{"x":0.58,"y":1.05},{"x":0.58,"y":0.93},{"x":0.58,"y":0.81},{"x":0.58,"y":0.70},{"x":0.58,"y":0.55},{"x":0.58,"y":0.41},{"x":0.58,"y":0.26},{"x":0.58,"y":0.15},
{"x":0.64,"y":0.87},{"x":0.64,"y":0.75},{"x":0.64,"y":0.61},{"x":0.64,"y":0.46},{"x":0.64,"y":0.32},{"x":0.64,"y":0.17},{"x":0.64,"y":0.09},
{"x":0.70,"y":0.81},{"x":0.70,"y":0.67},{"x":0.70,"y":0.52},{"x":0.70,"y":0.38},{"x":0.70,"y":0.23},{"x":0.70,"y":0.12},
{"x":0.76,"y":0.73},{"x":0.76,"y":0.58},{"x":0.76,"y":0.44},{"x":0.76,"y":0.29},{"x":0.76,"y":0.15},
{"x":0.81,"y":0.52},{"x":0.81,"y":0.38},{"x":0.81,"y":0.20},{"x":0.81,"y":0.09},
{"x":0.03,"y":0.41},{"x":0.03,"y":0.20},{"x":0.03,"y":0.55},{"x":0.03,"y":0.09},
{"x":0.13,"y":0.30},{"x":0.21,"y":0.35},{"x":0.30,"y":0.40},{"x":0.40,"y":0.35},{"x":0.48,"y":0.25},{"x":0.55,"y":0.30},{"x":0.62,"y":0.40},{"x":0.68,"y":0.30},{"x":0.74,"y":0.50},{"x":0.22,"y":0.60},{"x":0.30,"y":0.65},{"x":0.40,"y":0.60},{"x":0.48,"y":0.55},{"x":0.56,"y":0.62},{"x":0.62,"y":0.55},{"x":0.14,"y":0.10},{"x":0.30,"y":0.12},{"x":0.40,"y":0.08},{"x":0.48,"y":0.12},{"x":0.60,"y":0.05},{"x":0.72,"y":0.05},{"x":0.56,"y":0.75},{"x":0.62,"y":0.95},{"x":0.48,"y":0.70},{"x":0.40,"y":0.90},
{"x":0.06,"y":0.30},{"x":0.06,"y":0.66},{"x":0.12,"y":0.45},{"x":0.12,"y":0.22},{"x":0.14,"y":0.60},{"x":0.20,"y":0.50},{"x":0.20,"y":0.12},{"x":0.23,"y":0.72},{"x":0.24,"y":0.25},{"x":0.29,"y":0.52},{"x":0.32,"y":0.30},{"x":0.32,"y":0.72},{"x":0.38,"y":0.46},{"x":0.38,"y":0.18},{"x":0.42,"y":0.66},{"x":0.46,"y":0.38},{"x":0.50,"y":0.45},{"x":0.50,"y":0.15},{"x":0.54,"y":0.58},{"x":0.56,"y":0.40},{"x":0.60,"y":0.48},{"x":0.60,"y":0.20},{"x":0.66,"y":0.52},{"x":0.66,"y":0.35},{"x":0.68,"y":0.75},{"x":0.72,"y":0.45},{"x":0.72,"y":0.60},{"x":0.74,"y":0.22},{"x":0.78,"y":0.35},{"x":0.78,"y":0.65},{"x":0.55,"y":0.85},{"x":0.45,"y":0.80},{"x":0.60,"y":1.00},{"x":0.66,"y":0.95},{"x":0.90,"y":0.60},{"x":0.92,"y":0.35},{"x":1.00,"y":0.30},{"x":1.05,"y":0.60},{"x":1.15,"y":0.20},{"x":1.30,"y":0.45},{"x":1.32,"y":0.30},{"x":1.35,"y":0.20},{"x":1.50,"y":0.30},{"x":1.30,"y":0.60},{"x":1.20,"y":0.25}
]
},
"concat":[
{"width":258,"height":258,"data":{"name":"p1"},
 "title":{"text":"C–C Bulge–like Clumps","offset":-44,"dx":-30},
 "resolve":{"axis":{"x":"independent","y":"independent"}},
 "layer":[
  {"transform":[{"filter":"datum.t=='d'"}],"mark":{"type":"point","shape":"circle","filled":true,"color":"#0000ff","size":22,"opacity":1},
   "encoding":{"x":{"field":"x","type":"quantitative","scale":{"domain":[0,4.5],"nice":false,"zero":false},"axis":{"orient":"bottom","values":[0,1,2,3,4],"labels":false,"title":null}},
               "y":{"field":"y","type":"quantitative","scale":{"domain":[0,4.5],"nice":false,"zero":false},"axis":{"orient":"left","values":[0,1,2,3,4],"title":"Aᵥ (mag.)"}}}},
  {"transform":[{"filter":"datum.t=='o'"}],"mark":{"type":"point","shape":"circle","filled":false,"color":"#0000ff","strokeWidth":2,"size":64,"opacity":1},
   "encoding":{"x":{"field":"x","type":"quantitative","axis":null},"y":{"field":"y","type":"quantitative","axis":null}}},
  {"transform":[{"filter":"datum.t=='p'"}],"mark":{"type":"point","shape":"M-1,0L1,0M0,-1L0,1","filled":false,"color":"#0000ff","strokeWidth":2,"size":169,"opacity":1},
   "encoding":{"x":{"field":"x","type":"quantitative","axis":null},"y":{"field":"y","type":"quantitative","axis":null}}},
  {"transform":[{"filter":"datum.t=='x'"}],"mark":{"type":"point","shape":"M-1,-1L1,1M-1,1L1,-1","filled":false,"color":"#ff0000","strokeWidth":2.5,"size":64,"opacity":1},
   "encoding":{"x":{"field":"x","type":"quantitative","axis":null},"y":{"field":"y","type":"quantitative","axis":null}}},
  {"data":{"values":[]},"mark":{"type":"point","opacity":0},
   "encoding":{"x":{"field":"x","type":"quantitative","axis":{"orient":"top","values":[0,1,2,3,4],"labels":false,"title":null}},"y":{"field":"y","type":"quantitative","axis":{"orient":"right","values":[0,1,2,3,4],"labels":false,"title":null}}}}
 ]},
{"width":258,"height":258,"data":{"name":"p2"},
 "title":{"text":"Chain Bulge–like Clumps","offset":-44,"dx":-37},
 "resolve":{"axis":{"x":"independent","y":"independent"}},
 "layer":[
  {"transform":[{"filter":"datum.t=='d'"}],"mark":{"type":"point","shape":"circle","filled":true,"color":"#0000ff","size":22,"opacity":1},
   "encoding":{"x":{"field":"x","type":"quantitative","scale":{"domain":[0,4.5],"nice":false,"zero":false},"axis":{"orient":"bottom","values":[0,1,2,3,4],"labels":false,"title":null}},
               "y":{"field":"y","type":"quantitative","scale":{"domain":[0,4.5],"nice":false,"zero":false},"axis":{"orient":"left","values":[0,1,2,3,4],"labels":false,"title":null}}}},
  {"transform":[{"filter":"datum.t=='o'"}],"mark":{"type":"point","shape":"circle","filled":false,"color":"#0000ff","strokeWidth":2,"size":64,"opacity":1},
   "encoding":{"x":{"field":"x","type":"quantitative","axis":null},"y":{"field":"y","type":"quantitative","axis":null}}},
  {"transform":[{"filter":"datum.t=='p'"}],"mark":{"type":"point","shape":"M-1,0L1,0M0,-1L0,1","filled":false,"color":"#0000ff","strokeWidth":2,"size":169,"opacity":1},
   "encoding":{"x":{"field":"x","type":"quantitative","axis":null},"y":{"field":"y","type":"quantitative","axis":null}}},
  {"transform":[{"filter":"datum.t=='x'"}],"mark":{"type":"point","shape":"M-1,-1L1,1M-1,1L1,-1","filled":false,"color":"#ff0000","strokeWidth":2.5,"size":64,"opacity":1},
   "encoding":{"x":{"field":"x","type":"quantitative","axis":null},"y":{"field":"y","type":"quantitative","axis":null}}},
  {"data":{"values":[]},"mark":{"type":"point","opacity":0},
   "encoding":{"x":{"field":"x","type":"quantitative","axis":{"orient":"top","values":[0,1,2,3,4],"labels":false,"title":null}},"y":{"field":"y","type":"quantitative","axis":{"orient":"right","values":[0,1,2,3,4],"labels":false,"title":null}}}}
 ]},
{"width":258,"height":258,"data":{"name":"p3"},
 "title":{"text":"Spiral Bulges","offset":-44,"dx":-46},
 "resolve":{"axis":{"x":"independent","y":"independent"}},
 "layer":[
  {"transform":[{"filter":"datum.t=='p'"}],"mark":{"type":"point","shape":"M-1,0L1,0M0,-1L0,1","filled":false,"color":"#0000ff","strokeWidth":2,"size":169,"opacity":1},
   "encoding":{"x":{"field":"x","type":"quantitative","scale":{"domain":[0,4.5],"nice":false,"zero":false},"axis":{"orient":"bottom","values":[0,1,2,3,4],"labels":false,"title":null}},
               "y":{"field":"y","type":"quantitative","scale":{"domain":[0,4.5],"nice":false,"zero":false},"axis":{"orient":"left","values":[0,1,2,3,4],"labels":false,"title":null}}}},
  {"transform":[{"filter":"datum.t=='x'"}],"mark":{"type":"point","shape":"M-1,-1L1,1M-1,1L1,-1","filled":false,"color":"#ff0000","strokeWidth":2.5,"size":64,"opacity":1},
   "encoding":{"x":{"field":"x","type":"quantitative","axis":null},"y":{"field":"y","type":"quantitative","axis":null}}},
  {"data":{"values":[]},"mark":{"type":"point","opacity":0},
   "encoding":{"x":{"field":"x","type":"quantitative","axis":{"orient":"top","values":[0,1,2,3,4],"labels":false,"title":null}},"y":{"field":"y","type":"quantitative","axis":{"orient":"right","values":[0,1,2,3,4],"labels":false,"title":null}}}}
 ]},
{"width":258,"height":258,"data":{"name":"p4"},
 "title":{"text":"C–C Clumps","offset":-44,"dx":-50},
 "resolve":{"axis":{"x":"independent","y":"independent"}},
 "layer":[
  {"mark":{"type":"point","shape":"circle","filled":true,"color":"#0000ff","size":42,"opacity":1},
   "encoding":{"x":{"field":"x","type":"quantitative","scale":{"domain":[0,4.5],"nice":false,"zero":false},"axis":{"orient":"bottom","values":[0,1,2,3,4],"title":"Redshift"}},
               "y":{"field":"y","type":"quantitative","scale":{"domain":[0,4.5],"nice":false,"zero":false},"axis":{"orient":"left","values":[0,1,2,3,4],"title":"Aᵥ (mag.)"}}}},
  {"data":{"values":[]},"mark":{"type":"point","opacity":0},
   "encoding":{"x":{"field":"x","type":"quantitative","axis":{"orient":"top","values":[0,1,2,3,4],"labels":false,"title":null}},"y":{"field":"y","type":"quantitative","axis":{"orient":"right","values":[0,1,2,3,4],"labels":false,"title":null}}}}
 ]},
{"width":258,"height":258,"data":{"name":"p5"},
 "title":{"text":"Chain Clumps","offset":-44,"dx":-41},
 "resolve":{"axis":{"x":"independent","y":"independent"}},
 "layer":[
  {"mark":{"type":"point","shape":"circle","filled":true,"color":"#0000ff","size":42,"opacity":1},
   "encoding":{"x":{"field":"x","type":"quantitative","scale":{"domain":[0,4.5],"nice":false,"zero":false},"axis":{"orient":"bottom","values":[0,1,2,3,4],"title":"Redshift"}},
               "y":{"field":"y","type":"quantitative","scale":{"domain":[0,4.5],"nice":false,"zero":false},"axis":{"orient":"left","values":[0,1,2,3,4],"labels":false,"title":null}}}},
  {"data":{"values":[]},"mark":{"type":"point","opacity":0},
   "encoding":{"x":{"field":"x","type":"quantitative","axis":{"orient":"top","values":[0,1,2,3,4],"labels":false,"title":null}},"y":{"field":"y","type":"quantitative","axis":{"orient":"right","values":[0,1,2,3,4],"labels":false,"title":null}}}}
 ]},
{"width":258,"height":258,"data":{"name":"p6"},
 "title":{"text":"Spiral Clumps","offset":-44,"dx":-41},
 "resolve":{"axis":{"x":"independent","y":"independent"}},
 "layer":[
  {"mark":{"type":"point","shape":"circle","filled":true,"color":"#0000ff","size":42,"opacity":1},
   "encoding":{"x":{"field":"x","type":"quantitative","scale":{"domain":[0,4.5],"nice":false,"zero":false},"axis":{"orient":"bottom","values":[0,1,2,3,4],"title":"Redshift"}},
               "y":{"field":"y","type":"quantitative","scale":{"domain":[0,4.5],"nice":false,"zero":false},"axis":{"orient":"left","values":[0,1,2,3,4],"labels":false,"title":null}}}},
  {"data":{"values":[]},"mark":{"type":"point","opacity":0},
   "encoding":{"x":{"field":"x","type":"quantitative","axis":{"orient":"top","values":[0,1,2,3,4],"labels":false,"title":null}},"y":{"field":"y","type":"quantitative","axis":{"orient":"right","values":[0,1,2,3,4],"labels":false,"title":null}}}}
 ]}
]
}
